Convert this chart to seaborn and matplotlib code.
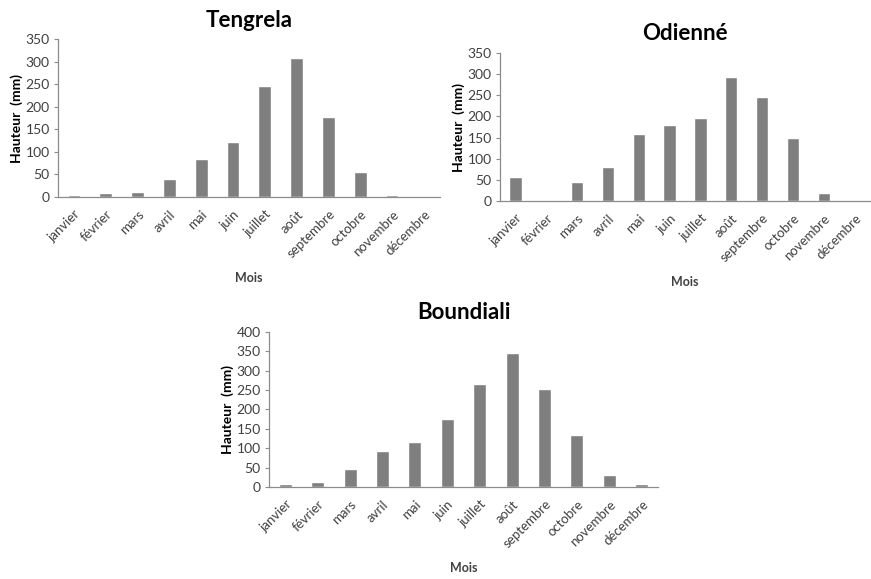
import matplotlib
matplotlib.use("Agg")
import matplotlib.pyplot as plt
import seaborn as sns
import pandas as pd

sns.set_theme(style="white")
plt.rcParams["font.family"] = ["Lato", "DejaVu Sans"]

months = ["janvier", "février", "mars", "avril", "mai", "juin", "juillet",
          "août", "septembre", "octobre", "novembre", "décembre"]

tengrela = [5, 8, 10, 39, 85, 122, 246, 309, 177, 56, 5, 0]
odienne = [56, 0, 44, 80, 159, 180, 196, 293, 245, 148, 20, 0]
boundiali = [8, 14, 47, 93, 116, 176, 265, 346, 253, 134, 31, 8]

stations = [
    ("Tengrela", tengrela, [0.0666, 0.6598, 0.4384, 0.2728], 350),
    ("Odienné", odienne, [0.574, 0.6528, 0.425, 0.2557], 350),
    ("Boundiali", boundiali, [0.3088, 0.1589, 0.4467, 0.2677], 400),
]

bar_color = "#7f7f7f"
axis_color = "#8c8c8c"
text_color = "#404040"

fig = plt.figure(figsize=(8.71, 5.79), dpi=100)

for name, values, rect, ymax in stations:
    ax = fig.add_axes(rect)
    df = pd.DataFrame({"Mois": months, "Hauteur": values})
    sns.barplot(data=df, x="Mois", y="Hauteur", color=bar_color,
                width=0.4, saturation=1, ax=ax)
    ax.set_xlim(-0.5, len(months) - 0.5)
    ax.set_ylim(0, ymax)
    ax.set_yticks(range(0, ymax + 1, 50))
    for s in ["top", "right"]:
        ax.spines[s].set_visible(False)
    for s in ["left", "bottom"]:
        ax.spines[s].set_color(axis_color)
        ax.spines[s].set_linewidth(0.9)
    ax.tick_params(axis="y", left=True, length=3, width=0.8, color=axis_color,
                   labelsize=10, labelcolor=text_color, pad=3)
    ax.tick_params(axis="x", bottom=False, labelsize=9.5, labelcolor=text_color, pad=2)
    for lbl in ax.get_xticklabels():
        lbl.set_rotation(45)
        lbl.set_ha("right")
        lbl.set_rotation_mode("anchor")
    ax.set_xlabel("Mois", fontsize=9, fontweight="bold", color=text_color, labelpad=8)
    ax.set_ylabel("Hauteur  (mm)", fontsize=10, fontweight="bold", color="#000000", labelpad=2)
    ax.set_title(name, fontsize=16, fontweight="bold", color="#000000", pad=9)
    ax.grid(False)

fig.savefig("out.png", dpi=100, facecolor="white")
